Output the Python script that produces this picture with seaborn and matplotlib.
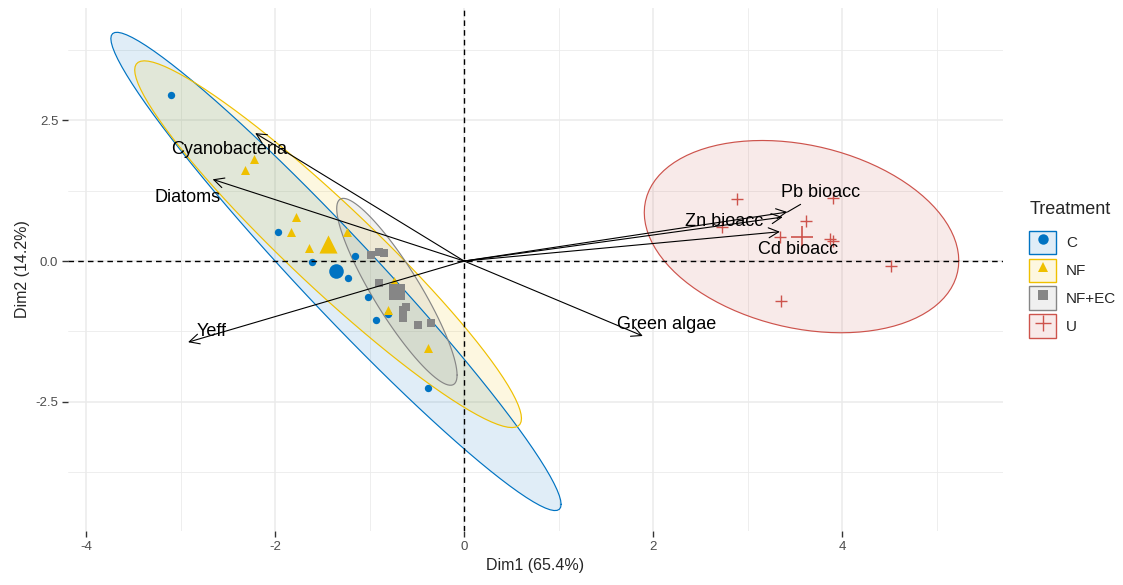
import numpy as np
import pandas as pd
import matplotlib
matplotlib.use("Agg")
import matplotlib.pyplot as plt
import seaborn as sns
from matplotlib.patches import Patch
from matplotlib.lines import Line2D
from matplotlib.legend_handler import HandlerTuple
from matplotlib.ticker import MultipleLocator

sns.set_theme(style="whitegrid")
plt.rcParams['font.family'] = ['Liberation Sans', 'DejaVu Sans']
plt.rcParams['axes.unicode_minus'] = False

# ---------- data ----------
GROUPS = ['C', 'NF', 'NF+EC', 'U']

C_X = [-3.10, -1.97, -1.61, -1.23, -1.15, -1.02, -0.93, -0.81, -0.38]
C_Y = [2.94, 0.51, -0.02, -0.30, 0.09, -0.64, -1.05, -0.94, -2.25]

NF_X = [-2.22, -2.32, -1.78, -1.83, -1.64, -1.24, -0.74, -0.80, -0.38]
NF_Y = [1.81, 1.61, 0.78, 0.51, 0.23, 0.51, -0.35, -0.87, -1.54]

NFEC_X = [-0.99, -0.90, -0.85, -0.90, -0.62, -0.65, -0.65, -0.49, -0.35]
NFEC_Y = [0.11, 0.16, 0.14, -0.39, -0.82, -0.87, -1.01, -1.13, -1.10]

U_X = [2.89, 3.90, 3.62, 2.73, 3.34, 3.87, 3.90, 4.52, 3.35]
U_Y = [1.10, 1.12, 0.71, 0.60, 0.43, 0.39, 0.35, -0.09, -0.71]

VARS = ['Cyanobacteria', 'Diatoms', 'Yeff', 'Green algae', 'Zn bioacc', 'Pb bioacc', 'Cd bioacc']
VAR_X = [-2.21, -2.66, -2.92, 1.89, 3.37, 3.42, 3.34]
VAR_Y = [2.27, 1.45, -1.44, -1.33, 0.78, 0.87, 0.52]

# ---------- styling ----------
COLORS = {'C': '#0073C2', 'NF': '#EFC000', 'NF+EC': '#868686', 'U': '#CD534C'}
MARKERS = {'C': 'o', 'NF': '^', 'NF+EC': 's', 'U': '+'}
SIZES = {'C': 28, 'NF': 42, 'NF+EC': 34, 'U': 75}
MEAN_SIZES = {'C': 110, 'NF': 170, 'NF+EC': 120, 'U': 260}
# label offsets (points) from arrow tip, imitating the repelled labels
LABEL_OFFSET = {'Cyanobacteria': (-19, -12), 'Diatoms': (-18, -13), 'Yeff': (17, 8),
                'Green algae': (17, 8), 'Zn bioacc': (-42, -3), 'Pb bioacc': (24, 14),
                'Cd bioacc': (13, -13)}

df = pd.concat([
    pd.DataFrame({'Dim1': C_X, 'Dim2': C_Y, 'Treatment': 'C'}),
    pd.DataFrame({'Dim1': NF_X, 'Dim2': NF_Y, 'Treatment': 'NF'}),
    pd.DataFrame({'Dim1': NFEC_X, 'Dim2': NFEC_Y, 'Treatment': 'NF+EC'}),
    pd.DataFrame({'Dim1': U_X, 'Dim2': U_Y, 'Treatment': 'U'}),
], ignore_index=True)
means = df.groupby('Treatment')[['Dim1', 'Dim2']].mean()


def norm_ellipse(x, y, level=0.95, seg=101):
    # same construction as ggplot2::stat_ellipse(type="norm")
    x = np.asarray(x); y = np.asarray(y)
    d = len(x) - 1
    fq = (d / 2) * ((1 - level) ** (-2 / d) - 1)  # F quantile, dfn = 2
    chi = np.sqrt(2 * fq)
    L = np.linalg.cholesky(np.cov(x, y))
    t = np.linspace(0, 2 * np.pi, seg)
    pts = L @ np.vstack([np.cos(t), np.sin(t)]) * chi
    return x.mean() + pts[0], y.mean() + pts[1]


fig = plt.figure(figsize=(11.23, 5.85), dpi=100)
ax = fig.add_axes([68 / 1123, 1 - 531 / 585, (1003 - 68) / 1123, (531 - 8) / 585])

for g in GROUPS:
    sub = df[df['Treatment'] == g]
    ex, ey = norm_ellipse(sub['Dim1'], sub['Dim2'])
    ax.fill(ex, ey, color=COLORS[g], alpha=0.12, lw=0, zorder=1)
    ax.plot(ex, ey, color=COLORS[g], lw=0.85, zorder=2)

for g in GROUPS:
    sub = df[df['Treatment'] == g]
    kw = dict(linewidth=1.0) if g == 'U' else dict(linewidth=0)
    sns.scatterplot(data=sub, x='Dim1', y='Dim2', color=COLORS[g], marker=MARKERS[g],
                    s=SIZES[g], ax=ax, legend=False, zorder=3, **kw)
    m = means.loc[[g]]
    kw = dict(linewidth=1.2) if g == 'U' else dict(linewidth=0)
    sns.scatterplot(data=m, x='Dim1', y='Dim2', color=COLORS[g], marker=MARKERS[g],
                    s=MEAN_SIZES[g], ax=ax, legend=False, zorder=3, **kw)

ax.axhline(0, color='black', ls=(0, (4, 3)), lw=1.0, zorder=4)
ax.axvline(0, color='black', ls=(0, (4, 3)), lw=1.0, zorder=4)

for name, vx, vy in zip(VARS, VAR_X, VAR_Y):
    ax.annotate('', xy=(vx, vy), xytext=(0, 0),
                arrowprops=dict(arrowstyle='->,head_length=0.6,head_width=0.3',
                                color='black', lw=0.8, shrinkA=0, shrinkB=0), zorder=5)
    dx, dy = LABEL_OFFSET[name]
    seg = dict(arrowstyle='-', color='black', lw=0.8, shrinkA=0, shrinkB=0) \
        if name == 'Pb bioacc' else None
    ax.annotate(name, xy=(vx, vy), xytext=(dx, dy), textcoords='offset points',
                ha='center', va='center', fontsize=13, color='black',
                arrowprops=seg, zorder=6)

ax.set_xlim(-4.19, 5.70)
ax.set_ylim(-4.79, 4.49)
ax.xaxis.set_minor_locator(MultipleLocator(1))
ax.yaxis.set_minor_locator(MultipleLocator(1.25))
ax.set_yticks([-2.5, 0, 2.5])
ax.set_yticklabels(['-2.5', '0.0', '2.5'])
ax.set_xticks([-4, -2, 0, 2, 4])
ax.set_xticklabels(['-4', '-2', '0', '2', '4'])
ax.grid(which='major', color='#EBEBEB', lw=1.1)
ax.grid(which='minor', color='#EBEBEB', lw=0.6)
ax.set_facecolor('white')
for s in ax.spines.values():
    s.set_visible(False)
ax.tick_params(which='major', length=4, width=1, color='#333333', labelsize=9.5,
               labelcolor='#4D4D4D', pad=3, bottom=True, left=True)
ax.tick_params(which='minor', length=0)
ax.set_xlabel('Dim1 (65.4%)', fontsize=11.5, labelpad=4)
ax.set_ylabel('Dim2 (14.2%)', fontsize=11.5, labelpad=4)

handles = []
for g in GROUPS:
    patch = Patch(facecolor=matplotlib.colors.to_rgba(COLORS[g], 0.12),
                  edgecolor=COLORS[g], lw=1)
    ms = 11 if g == 'U' else 7.5
    mk = Line2D([], [], marker=MARKERS[g], color=COLORS[g], ls='', markersize=ms,
                markeredgewidth=1.0 if g == 'U' else 0)
    handles.append((patch, mk))
leg = ax.legend(handles, GROUPS, title='Treatment', handler_map={tuple: HandlerTuple(ndivide=1)},
                loc='center left', bbox_to_anchor=(1.028, 0.5), frameon=False, borderpad=0,
                fontsize=11, title_fontsize=13, handlelength=1.75, handleheight=2.0,
                labelspacing=0.28, handletextpad=0.65, borderaxespad=0)
leg._legend_box.align = 'left'
leg._legend_box.sep = 9

plt.savefig('out.png', dpi=100)
plt.close()
